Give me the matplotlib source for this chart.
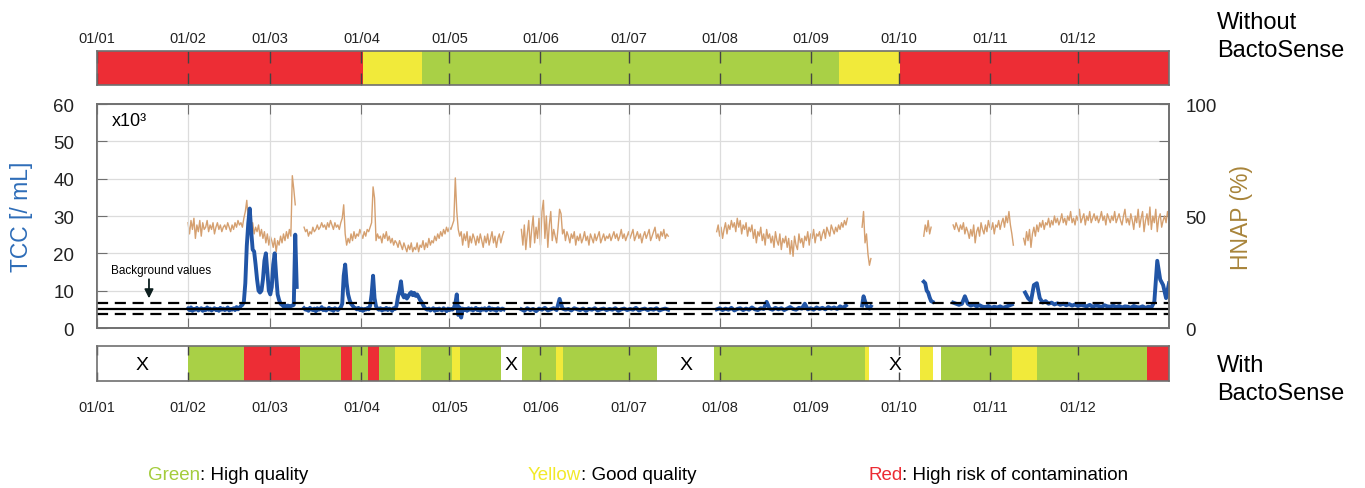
import numpy as np
import matplotlib
matplotlib.use('Agg')
import matplotlib.pyplot as plt

plt.rcParams['font.family'] = ['Liberation Sans', 'DejaVu Sans']

# ---- data -------------------------------------------------------------
month_starts = [0, 31, 59, 90, 120, 151, 181, 212, 243, 273, 304, 334]
month_labels = ['01/01', '01/02', '01/03', '01/04', '01/05', '01/06',
                '01/07', '01/08', '01/09', '01/10', '01/11', '01/12']

# quality status without BactoSense (day edges + colour code)
top_edges = [0, 90.5, 110.5, 252.7, 273.3, 365]
top_codes = ['r', 'y', 'g', 'y', 'r']

# quality status with BactoSense
bot_edges = [0, 31, 50.2, 69, 83.2, 86.7, 92.4, 96, 101.4, 110.3, 121, 123.7,
             137.4, 144.6, 156.4, 158.5, 190.8, 210.2, 261.5, 263, 280.3,
             284.5, 287.5, 311.6, 320, 357.5, 365]
bot_codes = ['w', 'g', 'r', 'g', 'r', 'g', 'r', 'g', 'y', 'g', 'y', 'g', 'w',
             'g', 'y', 'g', 'w', 'g', 'y', 'w', 'y', 'w', 'g', 'y', 'g', 'r']

# HNAP (%) segments, one sample every half day
hnap_starts = [31, 70.5, 144.5, 211, 260.5, 281.5, 291.5, 315.5]
hnap_1 = [47, 42, 48, 44, 49, 40, 46, 43, 48, 41, 47, 44, 45,
          48, 43, 46, 44, 47, 42, 45, 47, 44, 46, 43, 45, 46,
          44, 47, 45, 43, 46, 44, 47, 45, 48, 46, 47, 45,
          49, 52, 57, 48, 46, 44, 47, 42, 45, 43,
          46, 41, 44, 40, 43, 38, 42, 37, 41, 39,
          36, 40, 34, 39, 37, 41, 38, 42,
          39, 43, 40, 44, 41, 68, 62, 55]
hnap_2 = [45, 43, 44, 41, 43, 42, 45, 43, 44, 46, 44, 45,
          47, 45, 46, 44, 47, 45, 48, 46, 44, 47, 45, 46,
          44, 47, 49, 55, 42, 37, 40, 38,
          42, 39, 43, 40, 42, 41, 44, 42, 40, 43, 41, 44,
          43, 45, 47, 63, 58, 39, 42, 40,
          41, 38, 42, 40, 43, 39, 41, 38, 40, 37, 39, 38,
          36, 39, 37, 35, 38, 36, 34, 37, 35, 38, 34, 36,
          35, 38, 34, 37, 36, 39, 35, 38, 36, 40, 37, 39,
          38, 41, 39, 42, 40, 43, 41, 44, 42, 45, 43, 45,
          44, 46, 48, 67, 52, 44, 41, 43,
          37, 42, 39, 43, 36, 41, 38, 42, 40, 37, 41, 38,
          42, 39, 36, 41, 38, 42, 37, 40, 43, 38, 41, 36, 40, 42, 38, 41, 43]
hnap_3 = [44, 37, 46, 35, 42, 48, 36, 44, 50, 38, 45, 40,
          49, 37, 52, 57, 40, 50, 36, 46, 52, 39, 44, 41,
          38, 45, 53, 51, 42, 44, 39, 43, 41, 38, 42, 40,
          43, 37, 41, 39, 42, 38, 40, 43, 39, 41, 37, 42,
          40, 38, 42, 39, 41, 43, 38, 40, 42, 39, 41, 40,
          42, 39, 41, 43, 40, 42, 39, 41, 44, 40, 42, 39,
          41, 43, 40, 42, 44, 39, 41, 43, 40, 42, 38, 41,
          43, 40, 42, 44, 39, 41, 43, 45, 40, 42, 39, 43, 41, 44, 40, 42, 41]
hnap_4 = [43, 46, 41, 45, 40, 44, 47, 42, 46, 44, 48, 45,
          47, 43, 49, 45, 48, 42, 46, 44, 47, 41, 45, 43,
          46, 40, 44, 38, 43, 41, 45, 39, 42, 37, 44, 40,
          42, 38, 41, 36, 43, 39, 37, 42, 35, 40, 38, 41,
          36, 40, 33, 39, 32, 41, 37, 35, 42, 38, 40, 36,
          41, 39, 43, 37, 42, 40, 44, 38, 42, 41, 43, 39,
          42, 44, 40, 45, 43, 41, 46, 44, 42, 45, 43, 46,
          44, 47, 45, 48, 46, 49]
hnap_5 = [45, 52, 38, 42, 33, 28, 31]
hnap_6 = [41, 46, 43, 48, 42, 45]
hnap_7 = [46, 44, 47, 45, 43, 46, 44, 47, 42, 45, 43, 40, 44, 41, 46, 38,
          43, 45, 41, 47, 44, 42, 46, 43, 48, 45, 44, 47, 42, 46, 45, 48,
          44, 47, 49, 45, 50, 47, 52, 46, 42, 37]
hnap_8 = [40, 37, 43, 39, 44, 36, 42, 45, 41, 46, 43, 47,
          45, 48, 44, 47, 46, 49, 45, 48, 46, 50, 47, 49,
          46, 48, 51, 47, 49, 46, 50, 48, 52, 47, 49, 46,
          50, 48, 53, 47, 49, 51, 46, 50, 48, 52, 47, 49,
          51, 48, 50, 47, 49, 52, 48, 50, 46, 51, 49, 47,
          50, 48, 52, 47, 49, 51, 48, 46, 50, 53, 47, 49,
          46, 51, 48, 44, 50, 47, 53, 45, 49, 52, 43, 48,
          51, 46, 54, 44, 50, 47, 53, 43, 49, 51, 45, 48,
          50, 47, 52, 49, 54]
hnap_segs = [hnap_1, hnap_2, hnap_3, hnap_4, hnap_5, hnap_6, hnap_7, hnap_8]

# TCC (x10^3 / mL) segments: start day, sampling step (days), values
tcc_starts = [31, 70.5, 144.5, 211, 260.5, 281.5, 291.5, 316]
tcc_steps = [0.5, 0.5, 1, 1, 0.5, 0.5, 1, 1]
tcc_1 = [5.2, 4.8, 5.5, 4.6, 5.1, 4.9, 5.4, 4.7, 5.0, 5.3, 4.6, 5.1, 4.8,
         5.5, 4.9, 5.2, 4.7, 5.0, 5.3, 4.8, 5.1, 4.6, 5.4, 4.9, 5.2, 4.8,
         5.0, 5.5, 4.7, 5.1, 4.9, 5.3, 4.8, 5.6, 5.0, 5.4, 5.9, 6.2, 7.0,
         12, 22, 28, 32, 26, 21, 20.5, 17, 13, 10,
         9.5, 10, 13, 18, 20, 15, 10, 9, 11, 17, 20, 14,
         9, 7.5, 6.5, 6.2, 5.8, 6.1, 5.7, 6.0, 5.6, 5.9, 6.0, 6.2, 25, 11]
tcc_2 = [5.3, 4.9, 5.1, 4.6, 5.4, 5.0, 4.8, 5.2, 4.5, 5.3, 4.9, 5.1, 5.6,
         4.8, 5.2, 4.7, 5.0, 5.4, 4.9, 5.1, 4.6, 5.3, 5.0, 4.8, 5.2, 5.5, 6.5,
         14, 17, 12, 9, 7.5, 6.5, 6.0, 5.5, 5.3,
         5.0, 5.4, 4.8, 5.2, 4.6, 5.1, 4.9, 5.3, 5.0, 6.0,
         9, 14, 8, 5.8, 5.2, 4.9,
         5.3, 4.7, 5.1, 4.9, 5.4, 4.8, 5.2, 5.0, 4.6, 5.3, 5.1, 6.0,
         8.5, 10, 12.5, 9, 8.2, 8.8, 7.9, 8.5, 9.2, 9.6, 8.8, 9.4, 8.6, 9.0,
         8.3, 7.5, 7.0, 6.2, 5.5, 5.1,
         4.9, 5.2, 4.7, 5.0, 5.3, 4.6, 5.1, 4.8, 5.2, 4.9, 4.7, 5.3, 5.0,
         4.5, 5.2, 4.8, 5.1, 4.9, 5.4, 6.5,
         9.0, 3.5, 5.5, 2.8, 5.2, 4.8,
         5.1, 4.6, 5.3, 4.9, 5.2, 4.7, 5.0, 5.4, 4.8, 5.1, 4.6, 5.2, 4.9,
         5.3, 4.7, 5.0, 5.5, 4.8, 5.2, 4.9, 5.1, 4.6, 5.3, 5.0, 4.8, 5.2, 5.0]
tcc_3 = [5.0, 4.6, 5.3, 4.8, 5.1, 4.5, 5.2, 4.9, 5.4, 4.7,
         5.0, 5.3, 4.8, 7.8, 5.2, 4.9, 5.1, 4.7, 5.3, 5.0,
         4.8, 5.2, 4.6, 5.1, 4.9, 5.3, 4.7, 5.0, 5.2, 4.8,
         5.1, 4.9, 5.3, 4.6, 5.0, 5.2, 4.8, 5.1, 4.9, 5.4,
         4.7, 5.0, 5.2, 4.8, 5.1, 4.9, 5.3, 4.7, 5.0, 5.2, 4.9]
tcc_4 = [5.0, 5.3, 4.8, 5.2, 4.9, 5.4, 4.7, 5.1, 5.3, 4.8,
         5.2, 4.9, 5.5, 5.0, 4.8, 5.3, 5.1, 7.0, 5.2, 4.9,
         5.4, 5.0, 5.3, 4.8, 5.2, 5.6, 5.1, 4.9, 5.4, 5.2,
         6.5, 5.0, 5.3, 4.9, 5.5, 5.1, 5.4, 5.0, 5.6, 5.2,
         5.5, 5.1, 5.8, 5.4, 6.0]
tcc_5 = [6.0, 8.5, 7.2, 6.0, 5.5, 5.2, 5.8]
tcc_6 = [12.4, 12.0, 10.0, 9.5, 8.2, 7.2, 7.0]
tcc_7 = [6.8, 6.5, 6.2, 6.5, 8.5, 6.5, 6.0, 6.3, 5.8, 6.1, 5.7, 5.6, 5.9,
         5.4, 5.7, 5.5, 5.8, 5.4, 5.7, 6.0, 6.3]
tcc_8 = [9.5, 8.0, 7.2, 11.5, 12.0, 8.0, 6.8, 7.2, 6.5, 6.8,
         6.3, 6.6, 6.2, 6.5, 6.1, 6.4, 6.0, 6.3, 5.9, 6.2,
         6.0, 5.8, 6.2, 5.7, 6.0, 5.9, 5.6, 6.1, 5.8, 5.7,
         6.0, 5.6, 5.9, 5.5, 5.8, 5.7, 5.4, 5.9, 5.6, 5.5,
         5.8, 5.4, 5.7, 5.5, 7.0, 18.0, 13.0, 11.5, 8.0, 12.0]
tcc_segs = [tcc_1, tcc_2, tcc_3, tcc_4, tcc_5, tcc_6, tcc_7, tcc_8]

# background level (mean and band)
bg_mean = 5.2
bg_band = [3.7, 6.7]

# ---- style ------------------------------------------------------------
COL = {'r': '#ED2D35', 'y': '#F1EA3A', 'g': '#A9D046', 'w': 'white'}
BLUE = '#2155A6'
TAN = '#D5A070'
SPINE = '#707070'
GRID = '#DCDCDC'

fig = plt.figure(figsize=(13.65, 4.89), dpi=100)
L = 97 / 1365
W = (1169 - 97) / 1365


def status_bar(axb, edges, codes):
    spans = [(edges[i], edges[i + 1] - edges[i]) for i in range(len(codes))]
    axb.broken_barh(spans, (0, 1), facecolors=[COL[c] for c in codes])
    axb.set_xlim(0, 365)
    axb.set_ylim(0, 1)
    axb.set_yticks([])
    axb.set_xticks(month_starts)
    axb.set_xticklabels(month_labels, fontsize=10.5, color='#222222')
    for s in axb.spines.values():
        s.set_color(SPINE)
        s.set_linewidth(1.2)


# top bar : without BactoSense
ax_top = fig.add_axes([L, 1 - 86 / 489, W, 34 / 489])
status_bar(ax_top, top_edges, top_codes)
ax_top.tick_params(axis='x', direction='in', top=True, bottom=True,
                   labeltop=True, labelbottom=False, length=8.5, width=1,
                   color='#444444', pad=4)

# bottom bar : with BactoSense
ax_bot = fig.add_axes([L, 1 - 382 / 489, W, 35 / 489])
status_bar(ax_bot, bot_edges, bot_codes)
ax_bot.tick_params(axis='x', direction='in', top=True, bottom=True,
                   length=6.5, width=1, color='#444444', pad=14)
for i, c in enumerate(bot_codes):
    w = bot_edges[i + 1] - bot_edges[i]
    if c == 'w' and w > 5:
        ax_bot.text(bot_edges[i] + w / 2, 0.47, 'X', fontsize=14,
                    ha='center', va='center')

# main panel
ax = fig.add_axes([L, 1 - 329 / 489, W, 224 / 489])
ax2 = ax.twinx()
ax.set_zorder(ax2.get_zorder() + 1)
ax.patch.set_visible(False)

for start, vals in zip(hnap_starts, hnap_segs):
    x = start + 0.5 * np.arange(len(vals))
    ax2.plot(x, vals, color=TAN, lw=1.0)

for start, step, vals in zip(tcc_starts, tcc_steps, tcc_segs):
    x = start + step * np.arange(len(vals))
    ax.plot(x, vals, color=BLUE, lw=2.8, solid_joinstyle='round')

ax.axhline(bg_mean, color='black', lw=1.6)
for b in bg_band:
    ax.axhline(b, color='black', lw=1.6, ls=(0, (5, 3)))

ax.set_xlim(0, 365)
ax.set_ylim(0, 60)
ax.set_yticks(np.arange(0, 61, 10))
ax.set_xticks(month_starts)
ax.set_xticklabels([])
ax.grid(axis='x', color=GRID, lw=0.9)
ax.set_axisbelow(True)
ax.tick_params(axis='x', direction='in', top=True, bottom=True, length=7,
               color=SPINE)
ax.tick_params(axis='y', direction='in', length=7, labelsize=13.5,
               colors='#222222', color=SPINE, pad=16.5)

ax2.set_ylim(0, 100)
ax2.set_yticks(np.linspace(0, 100, 7))
ax2.set_yticklabels(['0', '', '', '50', '', '', '100'])
ax2.tick_params(axis='y', direction='in', length=7, labelsize=13.5,
                colors='#222222', color=SPINE, pad=12)
ax2.grid(True, color=GRID, lw=0.9)
ax2.set_axisbelow(True)

for a in (ax, ax2):
    for s in a.spines.values():
        s.set_color(SPINE)
        s.set_linewidth(1.2)

ax.set_ylabel('TCC [/ mL]', color='#2E6DB8', fontsize=16.5)
ax.yaxis.set_label_coords(-0.0595, 0.5)
ax2.set_ylabel('HNAP (%)', color='#A8843A', fontsize=16.5, rotation=90)
ax2.yaxis.set_label_coords(1.057, 0.5)

ax.text(5, 55.5, 'x10³', fontsize=13, va='center')
ax.text(4.8, 15.6, 'Background values', fontsize=8.5, va='center')
ax.annotate('', xy=(17.7, 7.2), xytext=(17.7, 13.8),
            arrowprops=dict(arrowstyle='-|>', color='#0d1f1f', lw=1.3,
                            mutation_scale=13))

# side labels
fig.text(1217 / 1365, 1 - 37 / 489, 'Without\nBactoSense', fontsize=17,
         va='center', ha='left', linespacing=1.38)
fig.text(1217 / 1365, 1 - 380 / 489, 'With\nBactoSense', fontsize=17,
         va='center', ha='left', linespacing=1.38)

# colour legend
legend_items = [('Green', '#A4CC3C', ': High quality', 148),
                ('Yellow', '#F2E92A', ': Good quality', 528),
                ('Red', '#EC2B33', ': High risk of contamination', 868)]
for word, c, rest, px in legend_items:
    t = fig.text(px / 1365, 1 - 476 / 489, word, color=c, fontsize=13.5,
                 va='center')
    ax.annotate(rest, xy=(1, 0), xycoords=t, va='bottom', ha='left',
                fontsize=13.5, annotation_clip=False)

fig.savefig('out.png', dpi=100)
